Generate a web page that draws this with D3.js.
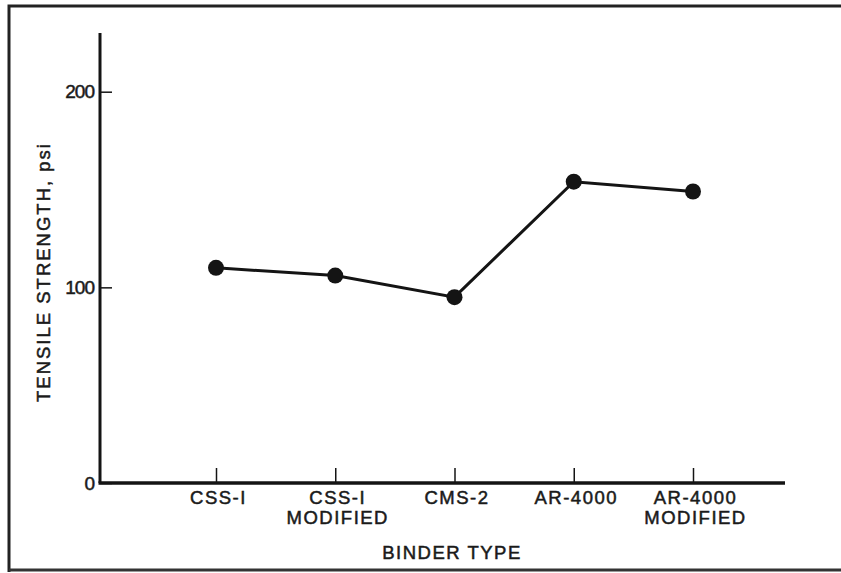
<html>
<head>
<script src="https://d3js.org/d3.v7.min.js"></script>
<style>
body { margin: 0; background: #fff; }
text { font-family: 'Liberation Sans', Arial, sans-serif; fill: #1a1a1a; stroke: #1a1a1a; stroke-width: 0.5px; }
</style>
</head>
<body>
<svg width="841" height="573"></svg>
<script>
// binder types along the x axis, each label may have two lines
var binders = ["CSS-1", "CSS-1 MODIFIED", "CMS-2", "AR-4000", "AR-4000 MODIFIED"];
var binderLines = [["CSS-I"], ["CSS-I", "MODIFIED"], ["CMS-2"], ["AR-4000"], ["AR-4000", "MODIFIED"]];
// tensile strength, psi
var strength = [110, 106, 95, 154, 149];
var yTicks = [0, 100, 200];

var svg = d3.select("svg");
var ink = "#141414";

// frame of the scanned figure (left, top, bottom)
svg.append("path")
  .attr("d", "M9,572 L9,6 L841,6")
  .attr("fill", "none").attr("stroke", "#222").attr("stroke-width", 3);
svg.append("line")
  .attr("x1", 9).attr("x2", 841).attr("y1", 570).attr("y2", 570)
  .attr("stroke", "#333").attr("stroke-width", 3);

var x0 = 100, xEnd = 785;
var y = d3.scaleLinear().domain([0, 230]).range([483, 33]);
var x = d3.scalePoint().domain(binders).range([216, 693]);

// y axis
var yAxis = d3.axisLeft(y).tickValues(yTicks).tickSize(-12).tickPadding(6).tickSizeOuter(0);
var gy = svg.append("g").attr("transform", "translate(" + x0 + ",0)").call(yAxis);
gy.select(".domain").remove();
gy.selectAll(".tick line").attr("stroke", ink).attr("stroke-width", 1.5);
gy.selectAll(".tick text").style("font-size", "19px").style("letter-spacing", "-1px").attr("fill", ink);
svg.append("line")
  .attr("x1", x0).attr("x2", x0).attr("y1", y(0)).attr("y2", y(230))
  .attr("stroke", ink).attr("stroke-width", 3);

// x axis
var xAxis = d3.axisBottom(x).tickSize(-15).tickPadding(11).tickFormat("");
var gx = svg.append("g").attr("transform", "translate(0," + y(0) + ")").call(xAxis);
gx.select(".domain").remove();
gx.selectAll(".tick line").attr("stroke", ink).attr("stroke-width", 1.5);
gx.selectAll(".tick text").remove();
gx.selectAll(".tick").each(function(d, i) {
  var t = d3.select(this).append("text")
    .attr("text-anchor", "middle")
    .style("font-size", "18.5px").style("letter-spacing", "1.5px")
    .attr("fill", ink);
  binderLines[i].forEach(function(s, j) {
    t.append("tspan").attr("x", 2).attr("y", 21 + j * 20).text(s);
  });
});
svg.append("line")
  .attr("x1", x0 - 1.5).attr("x2", xEnd).attr("y1", y(0)).attr("y2", y(0))
  .attr("stroke", ink).attr("stroke-width", 3.5);

// axis titles
svg.append("text")
  .attr("x", 452).attr("y", 559)
  .attr("text-anchor", "middle")
  .style("font-size", "18.5px").style("letter-spacing", "1.5px")
  .text("BINDER TYPE");
svg.append("text")
  .attr("transform", "translate(50,272) rotate(-90)")
  .attr("text-anchor", "middle")
  .style("font-size", "18.5px").style("letter-spacing", "2px")
  .text("TENSILE  STRENGTH, psi");

// data line and dots
var line = d3.line()
  .x(function(d, i) { return x(binders[i]); })
  .y(function(d) { return y(d); });
svg.append("path")
  .datum(strength)
  .attr("d", line)
  .attr("fill", "none").attr("stroke", ink).attr("stroke-width", 3);
svg.selectAll("circle.pt")
  .data(strength)
  .enter().append("circle")
  .attr("class", "pt")
  .attr("cx", function(d, i) { return x(binders[i]); })
  .attr("cy", function(d) { return y(d); })
  .attr("r", 8)
  .attr("fill", ink);
</script>
</body>
</html>
